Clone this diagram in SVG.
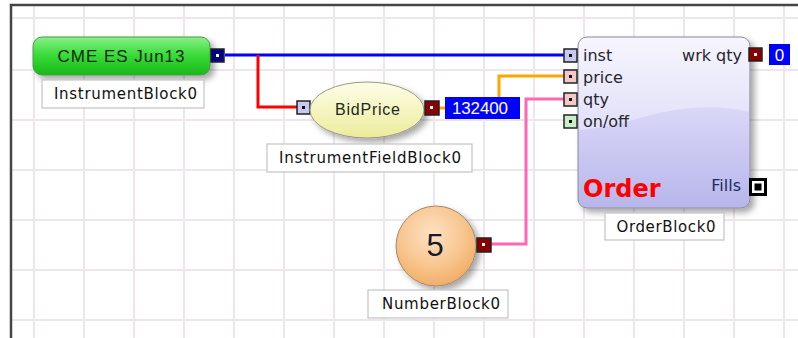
<svg xmlns="http://www.w3.org/2000/svg" width="798" height="338" viewBox="0 0 798 338">
<defs>
<style>
.grid{stroke:#ede7ed;stroke-width:2}
.lbl{fill:#fff;stroke:#c4c4c4;stroke-width:1.2}
.lt{font-family:"DejaVu Sans","Liberation Sans",Arial,sans-serif;font-size:15px;fill:#111;text-anchor:middle;dominant-baseline:central}
.pt{font-family:"DejaVu Sans","Liberation Sans",Arial,sans-serif;font-size:16px;fill:#262630;dominant-baseline:central}
.portIn{stroke:#222;stroke-width:1.5}
.portOut{fill:#8b0000;stroke:#222;stroke-width:1.5}
.dotB{fill:#111}
.dotW{fill:#fff}
.wire{fill:none;stroke-width:3}
.val{fill:#0000ff}
.vt{font-family:"Liberation Sans",Arial,sans-serif;font-size:17px;fill:#fff;dominant-baseline:central}
</style>
<linearGradient id="gGreen" x1="0" y1="0" x2="0" y2="1">
<stop offset="0" stop-color="#8af08a"/>
<stop offset="0.45" stop-color="#3cdc3c"/>
<stop offset="1" stop-color="#18b818"/>
</linearGradient>
<linearGradient id="gYellow" x1="0" y1="0" x2="0" y2="1">
<stop offset="0" stop-color="#fdfde8"/>
<stop offset="1" stop-color="#ecec9c"/>
</linearGradient>
<radialGradient id="gOrange" cx="0.45" cy="0.35" r="0.7">
<stop offset="0" stop-color="#fde2c4"/>
<stop offset="0.6" stop-color="#f8c48c"/>
<stop offset="1" stop-color="#f0a860"/>
</radialGradient>
<linearGradient id="gOrder" x1="0" y1="0" x2="0" y2="1">
<stop offset="0" stop-color="#f2f0fc"/>
<stop offset="0.5" stop-color="#d4d2f6"/>
<stop offset="1" stop-color="#b8b6ea"/>
</linearGradient>
<filter id="sh" x="-20%" y="-20%" width="150%" height="150%">
<feDropShadow dx="4" dy="4" stdDeviation="3" flood-color="#000" flood-opacity="0.35"/>
</filter>
</defs>

<rect x="0" y="0" width="798" height="338" fill="#fff"/>
<g id="grid">
<path class="grid" d="M34 6V338M84 6V338M134 6V338M184 6V338M234 6V338M284 6V338M334 6V338M384 6V338M434 6V338M484 6V338M534 6V338M584 6V338M634 6V338M684 6V338M734 6V338M784 6V338"/>
<path class="grid" d="M12 18H798M12 70H798M12 120H798M12 170H798M12 220H798M12 270H798M12 320H798"/>
<path d="M11 338V5H798" fill="none" stroke="#454545" stroke-width="2.5"/>
</g>

<g id="connectors">
<path class="wire" stroke="#0000ff" d="M225 55H565"/>
<path class="wire" stroke="#ff0000" d="M258 55V107H297"/>
<path class="wire" stroke="#ffa500" d="M439 108H445M499 97V76H565"/>
<path class="wire" stroke="#ff66b4" d="M491 244H526V99H565"/>
</g>

<g id="InstrumentBlock0">
<rect x="33" y="37" width="177" height="38" rx="9" fill="url(#gGreen)" stroke="#4a9a4a" stroke-width="1" filter="url(#sh)"/>
<text class="lt" x="121" y="56" textLength="127" style="font-family:'Liberation Sans',Arial,sans-serif;font-size:17px;fill:#0c2a0c">CME ES Jun13</text>
<rect class="portOut" x="211" y="49" width="13" height="13" style="fill:#00008b"/>
<rect class="dotW" x="216" y="54" width="3" height="3"/>
<rect class="lbl" x="42" y="80" width="162" height="28"/>
<text class="lt" x="125.5" y="94" textLength="143">InstrumentBlock0</text>
</g>

<g id="InstrumentFieldBlock0">
<rect class="portIn" x="297" y="101" width="13" height="13" fill="#c8c8f0"/>
<rect class="dotB" x="302" y="106" width="3" height="3"/>
<ellipse cx="367" cy="110" rx="57" ry="28" fill="url(#gYellow)" stroke="#9a9a80" stroke-width="1" filter="url(#sh)"/>
<text class="lt" x="367.5" y="109" textLength="65" style="font-family:'Liberation Sans',Arial,sans-serif;font-size:16px;fill:#1e2a20">BidPrice</text>
<rect class="portOut" x="425" y="101" width="14" height="14"/>
<rect class="dotW" x="430" y="106" width="3" height="3"/>
<rect class="val" x="445" y="97" width="75" height="22"/>
<text class="vt" x="452" y="108" textLength="56">132400</text>
<rect class="lbl" x="267" y="144" width="205" height="28"/>
<text class="lt" x="370" y="158" textLength="182">InstrumentFieldBlock0</text>
</g>

<g id="NumberBlock0">
<circle cx="436" cy="246" r="40" fill="url(#gOrange)" stroke="#a08a70" stroke-width="1" filter="url(#sh)"/>
<text class="lt" x="435" y="245" style="font-family:'Liberation Sans',Arial,sans-serif;font-size:31px;fill:#1a1a28">5</text>
<rect class="portOut" x="477" y="238" width="14" height="14"/>
<rect class="dotW" x="482" y="243" width="3" height="3"/>
<rect class="lbl" x="368" y="290" width="140" height="28"/>
<text class="lt" x="441" y="304" textLength="118">NumberBlock0</text>
</g>

<g id="OrderBlock0">
<rect x="578" y="37" width="172" height="171" rx="9" fill="url(#gOrder)" stroke="#8a8aa0" stroke-width="1" filter="url(#sh)"/>
<path d="M579 46Q579 38 587 38H741Q749 38 749 46V112Q700 100 640 118Q605 128 579 130Z" fill="#fff" opacity="0.35"/>
<rect class="portIn" x="564" y="49" width="13" height="13" fill="#c8c8f0"/>
<rect class="dotB" x="569" y="54" width="3" height="3"/>
<rect class="portIn" x="564" y="70" width="13" height="13" fill="#f4c8c8"/>
<rect class="dotB" x="569" y="75" width="3" height="3"/>
<rect class="portIn" x="564" y="93" width="13" height="13" fill="#f4c8c8"/>
<rect class="dotB" x="569" y="98" width="3" height="3"/>
<rect class="portIn" x="564" y="115" width="13" height="13" fill="#c8f0c8"/>
<rect class="dotB" x="569" y="120" width="3" height="3"/>
<text class="pt" x="583" y="55">inst</text>
<text class="pt" x="583" y="77">price</text>
<text class="pt" x="583" y="99">qty</text>
<text class="pt" x="583" y="121">on/off</text>
<text class="pt" x="742" y="55" text-anchor="end">wrk qty</text>
<text class="pt" x="741" y="185" text-anchor="end" style="fill:#1c2c5c">Fills</text>
<text x="583" y="197" style="font-family:'DejaVu Sans','Liberation Sans',Arial,sans-serif;font-size:24px;font-weight:bold;fill:#ff0000">Order</text>
<rect class="portOut" x="749" y="48" width="13" height="13"/>
<rect class="dotW" x="754" y="53" width="3" height="3"/>
<rect class="val" x="769" y="44" width="21" height="21"/>
<text class="vt" x="779.5" y="55" text-anchor="middle">0</text>
<rect x="749" y="178" width="18" height="18" fill="#000"/>
<rect x="752" y="181" width="12" height="12" fill="#fff"/>
<rect x="754.5" y="183.5" width="7" height="7" fill="#000"/>
<rect class="lbl" x="605" y="213" width="119" height="27"/>
<text class="lt" x="666" y="227" textLength="99">OrderBlock0</text>
</g>
</svg>
